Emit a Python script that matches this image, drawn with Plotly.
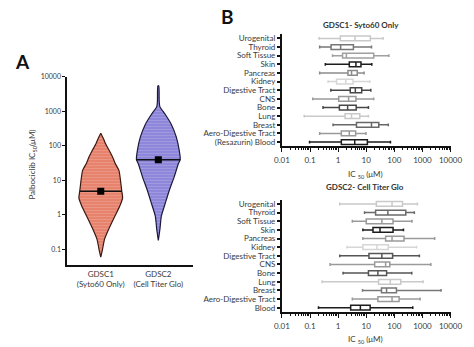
import numpy as np
import plotly.graph_objects as go

W, H = 474, 347

# ---------------- Panel A: palbociclib IC50 distributions ----------------
groups = ["GDSC1<br>(Syto60 Only)", "GDSC2<br>(Cell Titer Glo)"]
medians = [4.8, 40.0]

# density outline: IC50 value (uM) and relative half-width of the violin
gdsc1_vals = [234, 158, 115, 71, 49, 31, 19.5, 8.1, 4.9, 3.1, 1.8, 0.93, 0.37, 0.195, 0.10, 0.059]
gdsc1_dens = [0.0, 0.13, 0.22, 0.40, 0.53, 0.66, 0.83, 0.92, 0.96, 1.0, 0.87, 0.65, 0.35, 0.17, 0.08, 0.0]
gdsc2_vals = [5500, 2000, 1380, 813, 427, 182, 72, 40, 31, 12.9, 5.1, 2.2, 0.93, 0.37, 0.18]
gdsc2_dens = [0.02, 0.04, 0.07, 0.32, 0.59, 0.82, 0.96, 1.0, 0.92, 0.73, 0.50, 0.32, 0.14, 0.07, 0.0]

# ---------------- Panel B: IC50 by tissue ----------------
tissues = ["Urogenital", "Thyroid", "Soft Tissue", "Skin", "Pancreas", "Kidney",
           "Digestive Tract", "CNS", "Bone", "Lung", "Breast",
           "Aero-Digestive Tract", "Blood"]

g1_low = [0.21, 0.22, 0.63, 0.35, 0.22, 0.44, 0.55, 0.125, 0.29, 0.062, 0.66, 0.22, 0.096]
g1_q1 = [1.2, 0.56, 1.44, 2.5, 2.24, 0.88, 2.7, 1.05, 1.11, 1.77, 4.5, 1.3, 1.3]
g1_med = [4.0, 1.23, 1.97, 4.3, 3.0, 1.87, 4.1, 2.36, 2.18, 3.0, 15.4, 2.5, 3.9]
g1_q3 = [14, 3.5, 18.5, 6.5, 4.8, 3.4, 6.9, 4.3, 4.4, 5.9, 28, 4.2, 11]
g1_high = [40, 15.4, 64, 15.8, 8.4, 13.5, 14.6, 18.5, 12, 12, 61, 9.8, 73]

g2_low = [1.14, 8.7, 3.2, 7.6, 7.6, 2.07, 1.14, 0.52, 1.5, 0.27, 7.4, 3.2, 0.2]
g2_q1 = [23, 21.6, 10, 17.4, 49, 7.6, 12.5, 20, 12, 27.5, 35, 26, 2.8]
g2_med = [83, 59, 36, 31, 83, 24, 36, 49, 26, 72, 53, 83, 6.2]
g2_q3 = [196, 256, 90, 90, 222, 61, 87, 69, 53, 170, 119, 148, 13.8]
g2_high = [665, 516, 427, 212, 2730, 618, 780, 2000, 417, 1050, 4600, 825, 454]

g1_colors = ["#c9c9c9", "#777777", "#a0a0a0", "#1c1c1c", "#8c8c8c", "#d6d6d6",
             "#474747", "#9a9a9a", "#474747", "#c9c9c9", "#686868", "#9a9a9a", "#1c1c1c"]
g2_colors = ["#c9c9c9", "#6a6a6a", "#9a9a9a", "#1c1c1c", "#9a9a9a", "#d6d6d6",
             "#555555", "#9a9a9a", "#555555", "#c9c9c9", "#777777", "#9a9a9a", "#1c1c1c"]

tick_vals = [0.01, 0.1, 1, 10, 100, 1000, 10000]
tick_text = ["0.01", "0.1", "1", "10", "100", "1000", "10000"]

FONT = "Lato"
TXT = "#3a3a3a"


def px_x(p):
    return p / W


def px_y(p):
    return 1 - p / H


fig = go.Figure()

# violins drawn as filled outlines
violin_fill = ["#e7826c", "#8d86da"]
violin_edge = ["#3b1812", "#1c1838"]
half_max = 0.38
for i, (vals, dens) in enumerate([(gdsc1_vals, gdsc1_dens), (gdsc2_vals, gdsc2_dens)]):
    vals = np.array(vals, dtype=float)
    hw = np.array(dens) * half_max
    xs = np.concatenate([i + hw, (i - hw)[::-1], [i + hw[0]]])
    ys = np.concatenate([vals, vals[::-1], [vals[0]]])
    fig.add_trace(go.Scatter(
        x=xs, y=ys, mode="lines", fill="toself",
        fillcolor=violin_fill[i],
        fillpattern=dict(shape="-", fgcolor="rgba(255,255,255,0.45)",
                         bgcolor=violin_fill[i], size=3, solidity=0.25),
        line=dict(color=violin_edge[i], width=1.2, shape="spline", smoothing=0.6),
        xaxis="x", yaxis="y", showlegend=False, hoverinfo="skip"))
    # median bar across the violin
    lv = np.log10(vals)[::-1]
    w_med = np.interp(np.log10(medians[i]), lv, hw[::-1])
    fig.add_trace(go.Scatter(
        x=[i - w_med, i + w_med], y=[medians[i], medians[i]], mode="lines",
        line=dict(color="#111111", width=1.5), xaxis="x", yaxis="y",
        showlegend=False, hoverinfo="skip"))
    fig.add_trace(go.Scatter(
        x=[i], y=[medians[i]], mode="markers",
        marker=dict(symbol="square", size=7, color="#000000"),
        xaxis="x", yaxis="y", showlegend=False, hoverinfo="skip"))

# tissue box plots
labels_g1 = tissues[:-1] + ["(Resazurin) Blood"]
for axis_id, low, q1, med, q3, high, cols, labels in [
    ("2", g1_low, g1_q1, g1_med, g1_q3, g1_high, g1_colors, labels_g1),
    ("3", g2_low, g2_q1, g2_med, g2_q3, g2_high, g2_colors, tissues),
]:
    for j in range(len(tissues)):
        fig.add_trace(go.Box(
            y=[labels[j]], q1=[q1[j]], median=[med[j]], q3=[q3[j]],
            lowerfence=[low[j]], upperfence=[high[j]],
            orientation="h", boxpoints=False,
            line=dict(color=cols[j], width=1.5),
            fillcolor="rgba(255,255,255,0)",
            whiskerwidth=0.6, width=0.55,
            xaxis="x" + axis_id, yaxis="y" + axis_id,
            showlegend=False, hoverinfo="skip"))

axis_line = dict(showline=True, linecolor="#111111", linewidth=2, showgrid=False,
                 zeroline=False, ticks="outside", tickcolor="#111111")

box_x = dict(axis_line, type="log", range=[-2, 4], tickvals=tick_vals, ticktext=tick_text,
             ticklen=4, tickwidth=1, ticklabelstandoff=1,
             tickfont=dict(family=FONT, size=8, color=TXT),
             minor=dict(ticks="outside", ticklen=2, tickcolor="#111111", dtick="D1",
                        showgrid=False),
             domain=[px_x(286), px_x(462)])


def tissue_axis(cats, lo, hi, anchor):
    return dict(axis_line, type="category", categoryorder="array",
                categoryarray=cats[::-1], tickmode="array", tickvals=cats,
                ticktext=cats, range=[-0.5, 12.5], ticklen=3, tickwidth=1.5,
                tickfont=dict(family=FONT, size=8, color=TXT),
                domain=[px_y(lo), px_y(hi)], anchor=anchor)


fig.update_layout(
    width=W, height=H, margin=dict(l=0, r=0, t=0, b=0),
    paper_bgcolor="white", plot_bgcolor="white",
    font=dict(family=FONT, color=TXT),
    xaxis=dict(axis_line, range=[-0.58, 1.6], tickvals=[0, 1], ticktext=groups,
               ticks="", tickfont=dict(family=FONT, size=8, color=TXT),
               domain=[px_x(62), px_x(193)], anchor="y"),
    yaxis=dict(axis_line, type="log", range=[-1.46, 4.0],
               tickvals=[0.1, 1, 10, 100, 1000, 10000],
               ticktext=["0.1", "1", "10", "100", "1000", "10000"],
               ticklen=3, tickwidth=1, tickfont=dict(family=FONT, size=7, color=TXT),
               domain=[px_y(264), px_y(73)], anchor="x"),
    xaxis2=dict(box_x, anchor="y2"),
    yaxis2=tissue_axis(labels_g1, 143.5, 29.5, "x2"),
    xaxis3=dict(box_x, anchor="y3"),
    yaxis3=tissue_axis(tissues, 311.5, 197.5, "x3"),
)

ann = [
    dict(text="<b>A</b>", x=px_x(15), y=px_y(57), font=dict(size=19, color="#111111")),
    dict(text="<b>B</b>", x=px_x(229), y=px_y(12), font=dict(size=19, color="#111111")),
    dict(text="Palbociclib IC<sub>50</sub>(μM)", x=px_x(26), y=px_y(162), textangle=-90,
         font=dict(size=8, color=TXT)),
    dict(text="<b>GDSC1- Syto60 Only</b>", x=px_x(369), y=px_y(20),
         font=dict(size=8, color="#333333")),
    dict(text="<b>GDSC2- Cell Titer Glo</b>", x=px_x(373), y=px_y(185),
         font=dict(size=8, color="#333333")),
    dict(text="IC <sub>50</sub> (μM)", x=px_x(373), y=px_y(172),
         font=dict(size=8, color=TXT)),
    dict(text="IC <sub>50</sub> (μM)", x=px_x(373), y=px_y(339),
         font=dict(size=8, color=TXT)),
]
for a in ann:
    a.update(xref="paper", yref="paper", showarrow=False, xanchor="center", yanchor="middle")
    a["font"].setdefault("family", FONT)
fig.update_layout(annotations=ann)

fig.write_html("out.html")
